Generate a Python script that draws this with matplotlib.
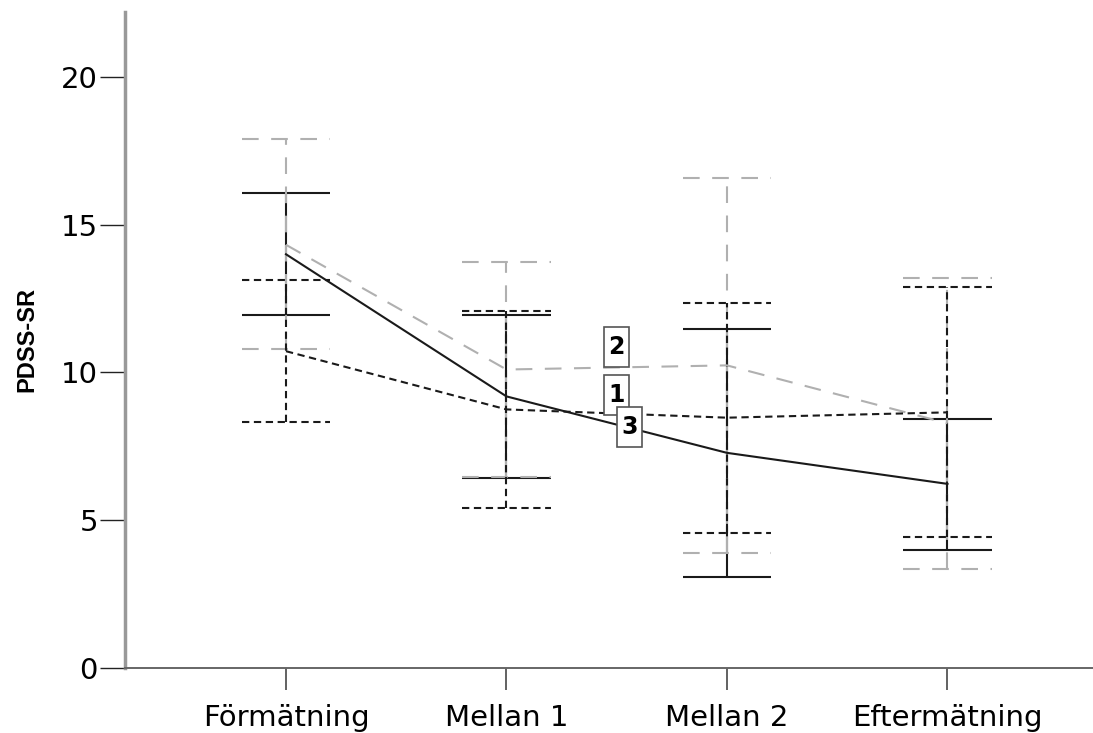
import matplotlib
matplotlib.use("Agg")
import matplotlib.pyplot as plt
from matplotlib.path import Path
import numpy as np

# ---- data ----
categories = ["Förmätning", "Mellan 1", "Mellan 2", "Eftermätning"]
group_labels = ["1", "2", "3"]
means_1 = [14.0, 9.19, 7.28, 6.23]
upper_1 = [16.07, 11.93, 11.46, 8.44]
lower_1 = [11.93, 6.44, 3.08, 4.0]
means_2 = [14.32, 10.1, 10.24, 8.28]
upper_2 = [17.9, 13.73, 16.58, 13.19]
lower_2 = [10.78, 6.47, 3.9, 3.36]
means_3 = [10.72, 8.75, 8.47, 8.65]
upper_3 = [13.12, 12.07, 12.34, 12.88]
lower_3 = [8.34, 5.42, 4.58, 4.44]
# line-label anchor positions (category index, value)
label_x = [1.5, 1.5, 1.56]
label_y = [9.25, 10.85, 8.14]
y_ticks = [0, 5, 10, 15, 20]

LW = 1.5
series = [
    (means_1, upper_1, lower_1, dict(color="#1a1a1a", linestyle="-", lw=LW)),
    (means_2, upper_2, lower_2, dict(color="#b0b0b0", linestyle=(0, (8, 6)), lw=LW)),
    (means_3, upper_3, lower_3, dict(color="#1a1a1a", linestyle=(0, (3.5, 2.2)), lw=LW)),
]

fig = plt.figure(figsize=(10.93, 7.33), dpi=100)
ax = fig.add_axes([0.1144, 0.0887, 0.8856, 0.895])

x = np.arange(len(categories))
cap = 0.2
for means, up, lo, st in series:
    ax.plot(x, means, **st, zorder=3)
    ax.vlines(x, lo, up, colors=st["color"], linestyles=[st["linestyle"]], lw=st["lw"], zorder=2)
    ax.hlines(up, x - cap, x + cap, colors=st["color"], linestyles=[st["linestyle"]], lw=st["lw"], zorder=2)
    ax.hlines(lo, x - cap, x + cap, colors=st["color"], linestyles=[st["linestyle"]], lw=st["lw"], zorder=2)


def fixed_box(x0, y0, width, height, mutation_size):
    # fixed-size label box (in pixels) centred on the text
    cx, cy = x0 + width / 2, y0 + height / 2
    w, h = 25, 40
    verts = [(cx - w / 2, cy - h / 2), (cx + w / 2, cy - h / 2),
             (cx + w / 2, cy + h / 2), (cx - w / 2, cy + h / 2),
             (cx - w / 2, cy - h / 2)]
    return Path(verts, closed=True)


for lab, lx, ly in zip(group_labels, label_x, label_y):
    ax.text(lx, ly, lab, ha="center", va="center", fontsize=17, fontweight="bold",
            family="DejaVu Sans", zorder=5,
            bbox=dict(boxstyle=fixed_box, fc="white", ec="#555555", lw=1.2))

ax.set_xlim(-0.73, 3.66)
ax.set_ylim(0, 22.2)
ax.set_xticks(x)
ax.set_xticklabels(categories, fontsize=21, family="DejaVu Sans")
ax.set_yticks(y_ticks)
ax.set_yticklabels([str(t) for t in y_ticks], fontsize=21, family="DejaVu Sans")
ax.tick_params(axis="y", length=18, width=1.0, color="#222222", pad=1.5)
ax.tick_params(axis="x", length=16, width=1.3, color="#555555", pad=10)
for s in ["top", "right"]:
    ax.spines[s].set_visible(False)
ax.spines["left"].set_color("#999999")
ax.spines["left"].set_linewidth(2.5)
ax.spines["bottom"].set_color("#666666")
ax.spines["bottom"].set_linewidth(1.4)
ax.set_ylabel("PDSS-SR", fontsize=17, fontweight="bold",
              family=["Liberation Sans", "DejaVu Sans"], labelpad=16)

fig.savefig("out.png", dpi=100)
